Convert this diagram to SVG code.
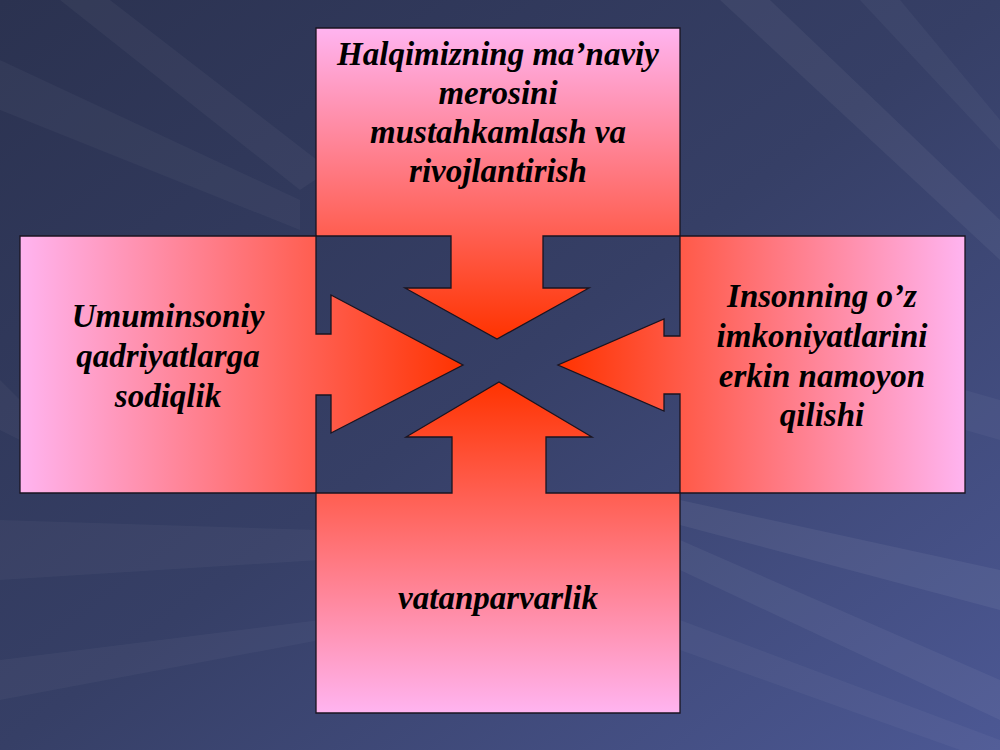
<svg xmlns="http://www.w3.org/2000/svg" width="1000" height="750" viewBox="0 0 1000 750">
  <defs>
    <linearGradient id="bg" x1="0" y1="0" x2="1" y2="1">
      <stop offset="0" stop-color="#2B3250"/>
      <stop offset="0.5" stop-color="#363F66"/>
      <stop offset="1" stop-color="#4C5894"/>
    </linearGradient>
    <linearGradient id="gTop" gradientUnits="userSpaceOnUse" x1="0" y1="28" x2="0" y2="339">
      <stop offset="0" stop-color="#FFB4F0"/>
      <stop offset="1" stop-color="#FF3300"/>
    </linearGradient>
    <linearGradient id="gBottom" gradientUnits="userSpaceOnUse" x1="0" y1="713" x2="0" y2="382">
      <stop offset="0" stop-color="#FFB4F0"/>
      <stop offset="1" stop-color="#FF3300"/>
    </linearGradient>
    <linearGradient id="gLeft" gradientUnits="userSpaceOnUse" x1="20" y1="0" x2="463" y2="0">
      <stop offset="0" stop-color="#FFB4F0"/>
      <stop offset="1" stop-color="#FF3300"/>
    </linearGradient>
    <linearGradient id="gRight" gradientUnits="userSpaceOnUse" x1="965" y1="0" x2="558" y2="0">
      <stop offset="0" stop-color="#FFB4F0"/>
      <stop offset="1" stop-color="#FF3300"/>
    </linearGradient>
    <style>
      .shape { stroke: #1A1420; stroke-width: 1.3; stroke-linejoin: miter; }
      .lbl { font-family: "Liberation Serif", "DejaVu Serif", "Noto Serif", serif; font-weight: 700; font-style: italic; font-size: 33px; fill: #000; text-anchor: middle; }
      .ray { fill: #FFFFFF; }
    </style>
  </defs>

  <g id="background">
    <rect x="0" y="0" width="1000" height="750" fill="url(#bg)"/>
    <polygon class="ray" opacity="0.04" points="60,0 110,0 330,170 300,190"/>
    <polygon class="ray" opacity="0.035" points="0,60 0,110 300,230 300,200"/>
    <polygon class="ray" opacity="0.035" points="0,380 0,430 20,440 20,400"/>
    <polygon class="ray" opacity="0.035" points="0,520 0,580 320,560 320,530"/>
    <polygon class="ray" opacity="0.035" points="0,660 0,700 320,640 320,620"/>
    <polygon class="ray" opacity="0.05" points="720,0 770,0 1000,220 1000,260"/>
    <polygon class="ray" opacity="0.04" points="860,0 900,0 1000,120 1000,150"/>
    <polygon class="ray" opacity="0.06" points="680,500 1000,570 1000,610 680,525"/>
    <polygon class="ray" opacity="0.05" points="680,540 1000,680 1000,720 680,570"/>
    <polygon class="ray" opacity="0.04" points="680,620 1000,740 1000,750 960,750 680,650"/>
    <polygon class="ray" opacity="0.04" points="965,390 1000,400 1000,440 965,430"/>
  </g>

  <g id="node-top">
    <path class="shape" fill="url(#gTop)" d="M316,28 H680 V236 H543 V288 H589 L497,339 L405,288 H451 V236 H316 Z"/>
    <text class="lbl" x="498" y="65">Halqimizning ma’naviy</text>
    <text class="lbl" x="498" y="104">merosini</text>
    <text class="lbl" x="498" y="143">mustahkamlash va</text>
    <text class="lbl" x="498" y="182">rivojlantirish</text>
  </g>

  <g id="node-left">
    <path class="shape" fill="url(#gLeft)" d="M20,236 H316 V334 H331 V295 L463,365 L331,433 V395 H316 V493 H20 Z"/>
    <text class="lbl" x="168" y="327">Umuminsoniy</text>
    <text class="lbl" x="168" y="367">qadriyatlarga</text>
    <text class="lbl" x="168" y="407">sodiqlik</text>
  </g>

  <g id="node-right">
    <path class="shape" fill="url(#gRight)" d="M965,236 H680 V336 H664 V319 L558,365 L664,411 V394 H680 V493 H965 Z"/>
    <text class="lbl" x="822" y="307">Insonning o’z</text>
    <text class="lbl" x="822" y="347">imkoniyatlarini</text>
    <text class="lbl" x="822" y="387">erkin namoyon</text>
    <text class="lbl" x="822" y="426">qilishi</text>
  </g>

  <g id="node-bottom">
    <path class="shape" fill="url(#gBottom)" d="M316,713 H680 V493 H546 V437 H592 L499,382 L406,437 H452 V493 H316 Z"/>
    <text class="lbl" x="498" y="609">vatanparvarlik</text>
  </g>

  <g id="connectors"></g>
</svg>
